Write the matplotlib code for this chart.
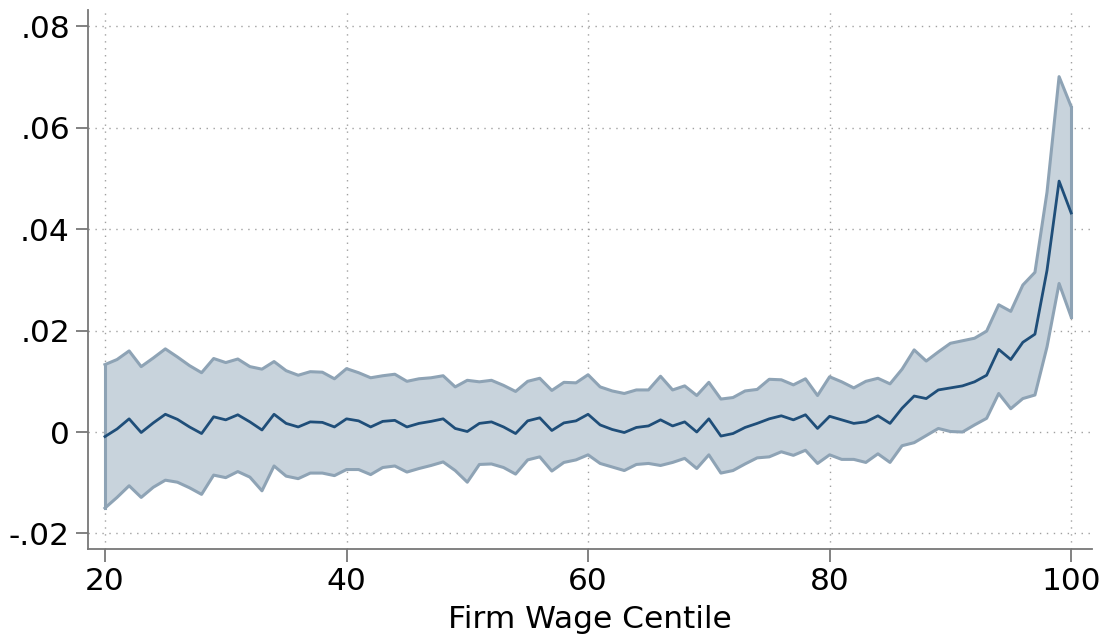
import matplotlib
matplotlib.use("Agg")
import matplotlib.pyplot as plt
from matplotlib.ticker import FuncFormatter

# Firm wage centiles 20..100
centile = list(range(20, 101))

# Point estimate
estimate = [
    -0.0009, 0.0006, 0.0026, -0.0001, 0.0018, 0.0035, 0.0025, 0.0010, -0.0003, 0.0030,
    0.0024, 0.0034, 0.0020, 0.0004, 0.0035, 0.0017, 0.0010, 0.0020, 0.0019, 0.0010,
    0.0026, 0.0022, 0.0010, 0.0021, 0.0023, 0.0010, 0.0017, 0.0021, 0.0026, 0.0007,
    0.0001, 0.0017, 0.0020, 0.0010, -0.0003, 0.0022, 0.0028, 0.0003, 0.0018, 0.0022,
    0.0035, 0.0014, 0.0005, -0.0001, 0.0009, 0.0012, 0.0024, 0.0012, 0.0020, 0.0000,
    0.0026, -0.0008, -0.0003, 0.0009, 0.0017, 0.0026, 0.0032, 0.0024, 0.0034, 0.0007,
    0.0031, 0.0024, 0.0017, 0.0020, 0.0032, 0.0017, 0.0047, 0.0071, 0.0066, 0.0083,
    0.0087, 0.0091, 0.0099, 0.0112, 0.0163, 0.0143, 0.0177, 0.0193, 0.0319, 0.0495,
    0.0432,
]

# Upper confidence bound
upper = [
    0.0133, 0.0143, 0.0160, 0.0129, 0.0146, 0.0164, 0.0148, 0.0131, 0.0117, 0.0145,
    0.0137, 0.0144, 0.0129, 0.0124, 0.0139, 0.0121, 0.0112, 0.0119, 0.0118, 0.0105,
    0.0125, 0.0117, 0.0107, 0.0111, 0.0114, 0.0100, 0.0105, 0.0107, 0.0111, 0.0089,
    0.0102, 0.0099, 0.0102, 0.0092, 0.0080, 0.0100, 0.0106, 0.0082, 0.0098, 0.0097,
    0.0113, 0.0089, 0.0081, 0.0076, 0.0083, 0.0083, 0.0110, 0.0083, 0.0091, 0.0072,
    0.0098, 0.0065, 0.0068, 0.0081, 0.0084, 0.0104, 0.0103, 0.0093, 0.0105, 0.0072,
    0.0109, 0.0099, 0.0087, 0.0100, 0.0106, 0.0095, 0.0124, 0.0162, 0.0140, 0.0158,
    0.0175, 0.0180, 0.0185, 0.0199, 0.0251, 0.0238, 0.0290, 0.0315, 0.0473, 0.0701,
    0.0642,
]

# Lower confidence bound
lower = [
    -0.0150, -0.0129, -0.0106, -0.0129, -0.0109, -0.0095, -0.0099, -0.0110, -0.0123, -0.0085,
    -0.0090, -0.0078, -0.0089, -0.0116, -0.0067, -0.0087, -0.0092, -0.0081, -0.0081, -0.0086,
    -0.0074, -0.0074, -0.0084, -0.0070, -0.0067, -0.0079, -0.0072, -0.0066, -0.0059, -0.0076,
    -0.0099, -0.0064, -0.0063, -0.0070, -0.0083, -0.0055, -0.0049, -0.0077, -0.0060, -0.0055,
    -0.0045, -0.0062, -0.0069, -0.0076, -0.0064, -0.0062, -0.0066, -0.0060, -0.0052, -0.0072,
    -0.0045, -0.0081, -0.0076, -0.0063, -0.0051, -0.0049, -0.0039, -0.0046, -0.0036, -0.0062,
    -0.0045, -0.0054, -0.0054, -0.0060, -0.0043, -0.0060, -0.0027, -0.0021, -0.0007, 0.0007,
    0.0001, 0.0000, 0.0014, 0.0027, 0.0076, 0.0046, 0.0066, 0.0073, 0.0168, 0.0293,
    0.0227,
]

x_ticks = [20, 40, 60, 80, 100]
y_ticks = [-0.02, 0, 0.02, 0.04, 0.06, 0.08]


def stata_fmt(v, pos):
    if abs(v) < 1e-9:
        return "0"
    s = f"{v:.2f}"
    return s.replace("0.", ".")


fig = plt.figure(figsize=(11.09, 6.40), dpi=100)
ax = fig.add_axes([0.0794, 0.142, 0.905, 0.842])

# confidence band
ax.fill_between(centile, lower, upper, facecolor="#c8d3dc", edgecolor="none", zorder=2)
ax.plot(centile, upper, color="#8ea3b5", lw=2.2, zorder=3)
ax.plot(centile, lower, color="#8ea3b5", lw=2.2, zorder=3)
ax.plot([centile[0], centile[0]], [lower[0], upper[0]], color="#8ea3b5", lw=2.2, zorder=3)
ax.plot([centile[-1], centile[-1]], [lower[-1], upper[-1]], color="#8ea3b5", lw=2.2, zorder=3)

# point estimate
ax.plot(centile, estimate, color="#1f4e79", lw=2.0, zorder=4)

ax.set_xlim(18.6, 101.7)
ax.set_ylim(-0.0231, 0.0832)
ax.set_xticks(x_ticks)
ax.set_yticks(y_ticks)
ax.yaxis.set_major_formatter(FuncFormatter(stata_fmt))

ax.grid(True, color="#a0a0a0", linestyle=(0, (1, 4)), linewidth=1.0, zorder=1)

for side in ["top", "right"]:
    ax.spines[side].set_visible(False)
for side in ["left", "bottom"]:
    ax.spines[side].set_color("#777777")
    ax.spines[side].set_linewidth(1.3)

ax.tick_params(axis="both", direction="out", length=9, width=1.3, color="#777777",
               labelsize=22.5, labelcolor="black", pad=4)
ax.set_xlabel("Firm Wage Centile", fontsize=22.5, labelpad=6)

fig.savefig("out.png", dpi=100)
